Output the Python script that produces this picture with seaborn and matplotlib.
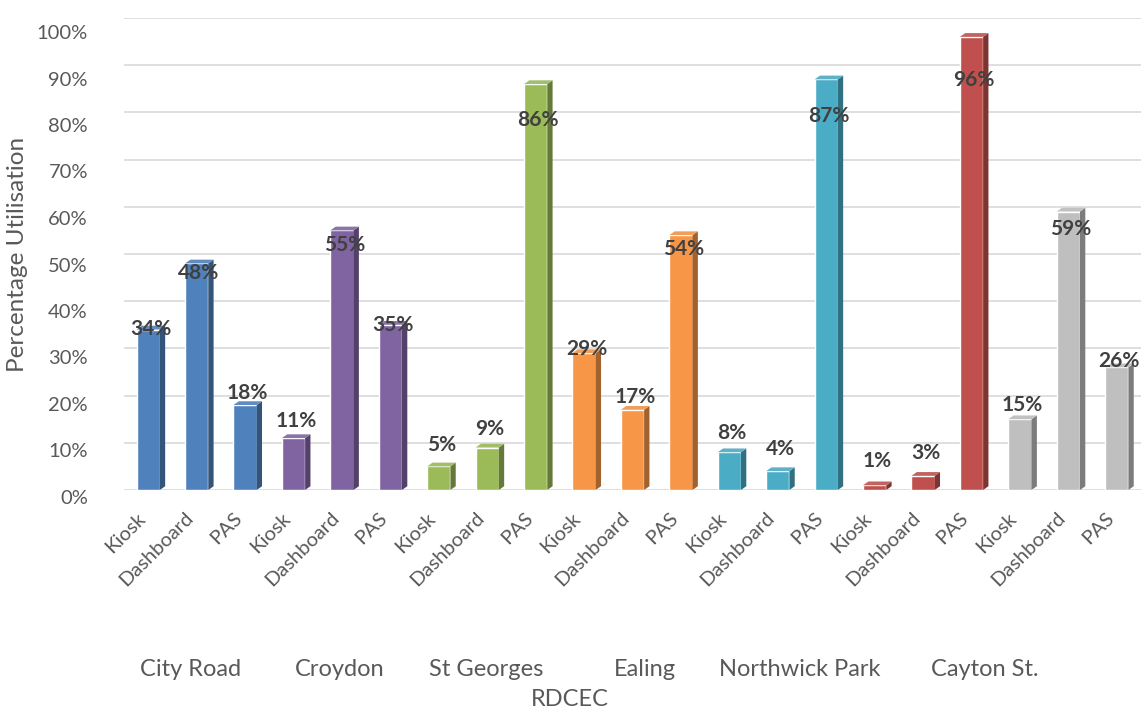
import numpy as np
import pandas as pd
import matplotlib
matplotlib.use("Agg")
import matplotlib.pyplot as plt
import matplotlib.colors as mcolors
import matplotlib.transforms as mtransforms
from matplotlib.patches import Polygon
from matplotlib.ticker import PercentFormatter
import seaborn as sns

# ---- data ----
locations = ["City Road", "Croydon", "St Georges", "Ealing", "Northwick Park", "Cayton St."]
devices = ["Kiosk", "Dashboard", "PAS"] * 7
values = [0.34, 0.48, 0.18,
          0.11, 0.55, 0.35,
          0.05, 0.09, 0.86,
          0.29, 0.17, 0.54,
          0.08, 0.04, 0.87,
          0.01, 0.03, 0.96,
          0.15, 0.59, 0.26]
group_colors = ["#4F81BD", "#8064A2", "#9BBB59", "#F79646", "#4BACC6", "#C0504D", "#BFBFBF"]
loc_label_x = [0.87, 3.96, 6.98, 10.26, 13.46, 17.28]

bar_ids = [f"b{i}" for i in range(len(values))]
palette = {bid: group_colors[i // 3] for i, bid in enumerate(bar_ids)}
df = pd.DataFrame({"bar": bar_ids, "device": devices, "value": values})

sns.set_theme(style="white")
plt.rcParams["font.family"] = ["Lato", "DejaVu Sans"]

fig = plt.figure(figsize=(11.42, 7.12), dpi=100)
ax = fig.add_axes([124 / 1142, 1 - 490 / 712, 1017 / 1142, 472 / 712])

sns.barplot(data=df, x="bar", y="value", hue="bar", palette=palette, order=bar_ids,
            hue_order=bar_ids, legend=False, width=0.48, saturation=1, ax=ax, zorder=3)

ax.set_xlim(-0.5, len(values) - 0.5)
ax.set_ylim(0, 1.0)
ax.set_yticks(np.arange(0, 1.01, 0.1))
ax.yaxis.set_major_formatter(PercentFormatter(1.0, decimals=0))
ax.grid(axis="y", color="#D9D9D9", linewidth=1.2, zorder=0)
ax.grid(axis="x", visible=False)
for s in ax.spines.values():
    s.set_visible(False)

# pseudo-3D sides/tops
dx, dy = 0.11, 0.008
for i, p in enumerate(ax.patches):
    x0, w, h = p.get_x(), p.get_width(), p.get_height()
    base = mcolors.to_rgb(group_colors[i // 3])
    dark = tuple(c * 0.65 for c in base)
    light = tuple(min(1, c * 0.85 + 0.12) for c in base)
    side = Polygon([(x0 + w, 0), (x0 + w, h), (x0 + w + dx, h + dy), (x0 + w + dx, dy)],
                   closed=True, facecolor=dark, edgecolor="none", zorder=3)
    top = Polygon([(x0, h), (x0 + w, h), (x0 + w + dx, h + dy), (x0 + dx, h + dy)],
                  closed=True, facecolor=light, edgecolor="none", zorder=3)
    ax.add_patch(side)
    ax.add_patch(top)
    ax.text(x0 + w / 2 + 0.05, 0.0525 + 0.85 * h, f"{round(h * 100):d}%", ha="center", va="center",
            fontsize=15, fontweight="bold", color="#404040", zorder=5)

ax.set_xticks(range(len(values)))
ax.set_xticklabels(devices, rotation=45, ha="right", rotation_mode="anchor",
                   fontsize=14.5, color="#595959")
ax.tick_params(axis="x", length=0, pad=14)
ax.tick_params(axis="y", length=0, pad=26, labelsize=14.5, labelcolor="#595959")
shift_x = mtransforms.ScaledTranslation(-12 / 100, 0, fig.dpi_scale_trans)
for lab in ax.get_xticklabels():
    lab.set_transform(lab.get_transform() + shift_x)
for tick_val, lab in zip(ax.get_yticks(), ax.get_yticklabels()):
    off = mtransforms.ScaledTranslation(0, -(7 + 7 * tick_val) / 100, fig.dpi_scale_trans)
    lab.set_transform(lab.get_transform() + off)
ax.set_xlabel("")
ax.set_ylabel("Percentage Utilisation", fontsize=17.5, color="#595959", labelpad=6)

for name, xpos in zip(locations, loc_label_x):
    t = ax.text(xpos, 0, name, transform=ax.get_xaxis_transform(), ha="center", va="center",
                fontsize=17, color="#595959")
    t.set_y(-(670 - 490) / 472)

fig.text(570 / 1142, 1 - 700 / 712, "RDCEC", ha="center", va="center", fontsize=17, color="#595959")

fig.savefig("out.png", dpi=100, facecolor="white")
